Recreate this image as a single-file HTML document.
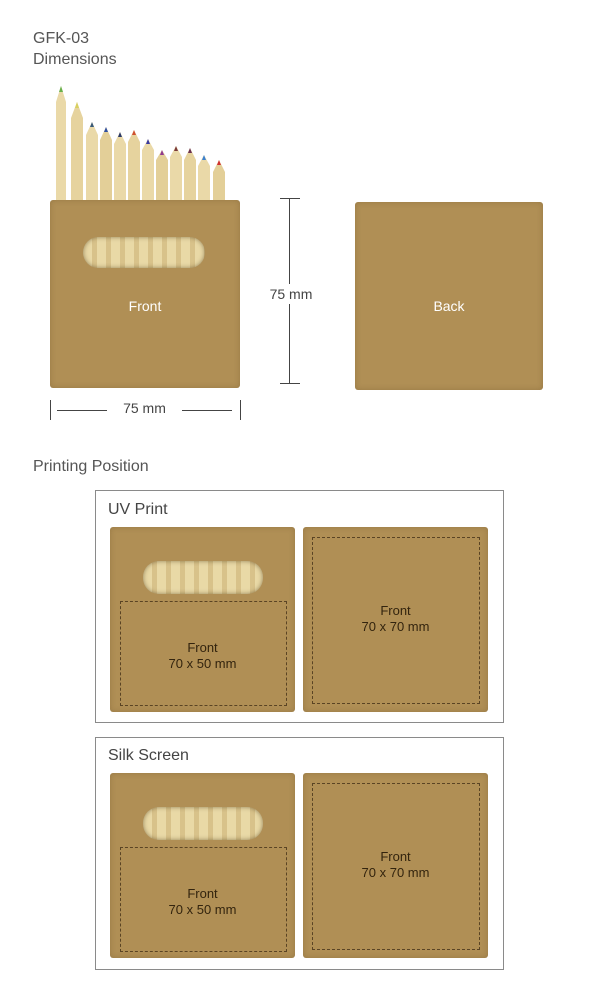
<!DOCTYPE html><html><head><style>
body{margin:0;width:600px;height:996px;background:#fff;position:relative;font-family:"Liberation Sans",sans-serif;overflow:hidden}
.a{position:absolute}
.k{position:absolute;background:#b08f55;border-radius:3px;box-shadow:inset 0 0 6px rgba(80,55,20,.25)}
.t{position:absolute;color:#555;font-size:16px}
.w{position:absolute;border-radius:16px;background:repeating-linear-gradient(90deg,#e9d9a6 0 9px,#d8c28a 9px 14px);box-shadow:inset 0 0 5px rgba(60,40,10,.5)}
.d{position:absolute;border:1px dashed #5a4424}
.c{position:absolute;text-align:center;color:#33240e;font-size:13px;line-height:16px}
.p{position:absolute;border:1px solid #8a8a8a}
</style></head><body>
<div class="t" style="left:33px;top:30px">GFK-03</div>
<div class="t" style="left:33px;top:51px">Dimensions</div>
<svg class="a" style="left:50px;top:80px" width="190" height="125">
<g>
<path d="M6 120 V22 L11 6 L16 22 V120Z" fill="#ead9a8"/><path d="M9 12 L11 6 L13 12Z" fill="#6ab04c"/>
<path d="M21 120 V38 L27 22 L33 38 V120Z" fill="#e6d39e"/><path d="M25 28 L27 22 L29 28Z" fill="#d8d060"/>
<path d="M36 120 V55 L42 42 L48 55 V120Z" fill="#ead9a8"/><path d="M40 47 L42 42 L44 47Z" fill="#3a5a7a"/>
<path d="M50 120 V60 L56 47 L62 60 V120Z" fill="#e3cf98"/><path d="M54 52 L56 47 L58 52Z" fill="#3050a0"/>
<path d="M64 120 V64 L70 52 L76 64 V120Z" fill="#ead9a8"/><path d="M68 57 L70 52 L72 57Z" fill="#2a3a6a"/>
<path d="M78 120 V62 L84 50 L90 62 V120Z" fill="#e6d39e"/><path d="M82 55 L84 50 L86 55Z" fill="#d05030"/>
<path d="M92 120 V70 L98 59 L104 70 V120Z" fill="#ead9a8"/><path d="M96 64 L98 59 L100 64Z" fill="#3a3aa0"/>
<path d="M106 120 V80 L112 70 L118 80 V120Z" fill="#e3cf98"/><path d="M110 75 L112 70 L114 75Z" fill="#903a90"/>
<path d="M120 120 V77 L126 66 L132 77 V120Z" fill="#ead9a8"/><path d="M124 71 L126 66 L128 71Z" fill="#7a3a3a"/>
<path d="M134 120 V80 L140 68 L146 80 V120Z" fill="#e6d39e"/><path d="M138 73 L140 68 L142 73Z" fill="#6a3050"/>
<path d="M148 120 V86 L154 75 L160 86 V120Z" fill="#ead9a8"/><path d="M152 80 L154 75 L156 80Z" fill="#3a80d0"/>
<path d="M163 120 V92 L169 80 L175 92 V120Z" fill="#e3cf98"/><path d="M167 85 L169 80 L171 85Z" fill="#d03030"/>
</g></svg>
<div class="k" style="left:50px;top:200px;width:190px;height:188px"></div>
<div class="w" style="left:83px;top:237px;width:122px;height:31px"></div>
<div class="a" style="left:50px;top:298px;width:190px;text-align:center;color:#fff;font-size:14px">Front</div>
<div class="a" style="left:289px;top:198px;width:1px;height:186px;background:#444"></div>
<div class="a" style="left:280px;top:198px;width:20px;height:1px;background:#444"></div>
<div class="a" style="left:280px;top:383px;width:20px;height:1px;background:#444"></div>
<div class="a" style="left:262px;top:284px;width:58px;text-align:center;background:#fff;color:#444;font-size:14px;line-height:20px">75 mm</div>
<div class="k" style="left:355px;top:202px;width:188px;height:188px"></div>
<div class="a" style="left:355px;top:298px;width:188px;text-align:center;color:#fff;font-size:14px">Back</div>
<div class="a" style="left:50px;top:400px;width:1px;height:20px;background:#444"></div>
<div class="a" style="left:240px;top:400px;width:1px;height:20px;background:#444"></div>
<div class="a" style="left:57px;top:410px;width:50px;height:1px;background:#444"></div>
<div class="a" style="left:182px;top:410px;width:50px;height:1px;background:#444"></div>
<div class="a" style="left:107px;top:400px;width:75px;text-align:center;color:#444;font-size:14px">75 mm</div>
<div class="t" style="left:33px;top:458px">Printing Position</div>

<div class="p" style="left:95px;top:490px;width:407px;height:231px"></div>
<div class="t" style="left:108px;top:501px;color:#444">UV Print</div>
<div class="k" style="left:110px;top:527px;width:185px;height:185px"></div>
<div class="w" style="left:143px;top:561px;width:120px;height:33px"></div>
<div class="d" style="left:120px;top:601px;width:165px;height:103px"></div>
<div class="c" style="left:110px;top:640px;width:185px">Front<br>70 x 50 mm</div>
<div class="k" style="left:303px;top:527px;width:185px;height:185px"></div>
<div class="d" style="left:312px;top:537px;width:166px;height:165px"></div>
<div class="c" style="left:303px;top:603px;width:185px">Front<br>70 x 70 mm</div>

<div class="p" style="left:95px;top:737px;width:407px;height:231px"></div>
<div class="t" style="left:108px;top:747px;color:#444">Silk Screen</div>
<div class="k" style="left:110px;top:773px;width:185px;height:185px"></div>
<div class="w" style="left:143px;top:807px;width:120px;height:33px"></div>
<div class="d" style="left:120px;top:847px;width:165px;height:103px"></div>
<div class="c" style="left:110px;top:886px;width:185px">Front<br>70 x 50 mm</div>
<div class="k" style="left:303px;top:773px;width:185px;height:185px"></div>
<div class="d" style="left:312px;top:783px;width:166px;height:165px"></div>
<div class="c" style="left:303px;top:849px;width:185px">Front<br>70 x 70 mm</div>
</body></html>
